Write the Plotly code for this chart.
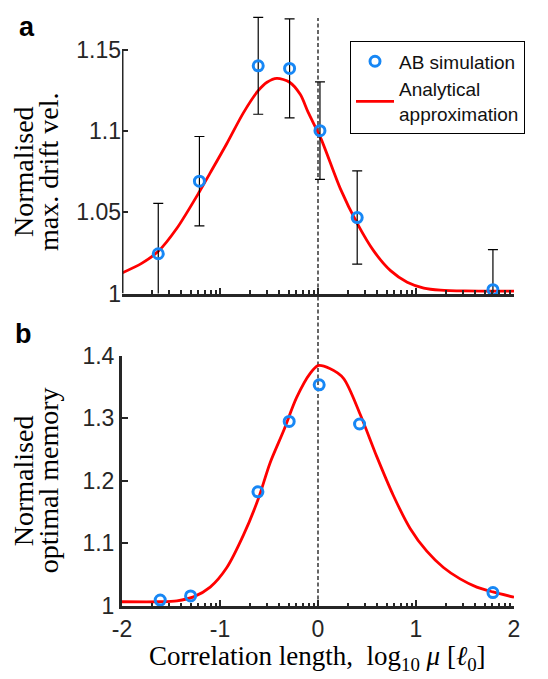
import math
import plotly.graph_objects as go

# ---------------- data ----------------
# Panel a: normalised maximal drift velocity
a_sim_x = [-1.63, -1.21, -0.61, -0.29, 0.02, 0.40, 1.785]
a_sim_y = [1.0245, 1.0692, 1.1402, 1.1386, 1.1003, 1.0468, 1.0024]
a_sim_err = [0.031, 0.0275, 0.0298, 0.0305, 0.0300, 0.0287, 0.0247]

a_fit_x = [-2.0, -1.8, -1.63, -1.44, -1.21, -1.10, -0.93, -0.76, -0.61, -0.52,
           -0.42, -0.29, -0.18, -0.10, 0.03, 0.23, 0.40, 0.57, 0.74, 0.91,
           1.08, 1.25, 1.5, 2.0]
a_fit_y = [1.0127, 1.0186, 1.0260, 1.0402, 1.0627, 1.0743, 1.0924, 1.1114, 1.1249, 1.1301,
           1.1325, 1.1301, 1.1225, 1.1115, 1.0954, 1.0643, 1.0432, 1.0261, 1.0141, 1.0070,
           1.0034, 1.0021, 1.0016, 1.0015]

# Panel b: normalised optimal memory
b_sim_x = [-1.61, -1.30, -0.613, -0.294, 0.012, 0.424, 1.785]
b_sim_y = [1.0094, 1.0161, 1.1823, 1.2948, 1.3531, 1.2906, 1.0214]

b_fit_x = [-2.0, -1.61, -1.44, -1.27, -1.10, -0.93, -0.76, -0.61, -0.49, -0.35,
           -0.22, -0.08, 0.0, 0.12, 0.26, 0.43, 0.60, 0.77, 0.94, 1.11,
           1.28, 1.45, 1.62, 1.785, 2.0]
b_fit_y = [1.0068, 1.0068, 1.0083, 1.0146, 1.0302, 1.0615, 1.1135, 1.1708, 1.2281, 1.2802,
           1.3323, 1.3714, 1.3838, 1.3792, 1.3636, 1.3063, 1.2385, 1.1761, 1.1239, 1.0875,
           1.0615, 1.0433, 1.0302, 1.0224, 1.0140]

x_ticks = [-2, -1, 0, 1, 2]
x_ticktext = ["-2", "-1", "0", "1", "2"]
a_yticks = [1, 1.05, 1.1, 1.15]
a_yticktext = ["1", "1.05", "1.1", "1.15"]
b_yticks = [1, 1.1, 1.2, 1.3, 1.4]
b_yticktext = ["1", "1.1", "1.2", "1.3", "1.4"]

sim_name = "AB simulation"
fit_name = "Analytical<br>approximation"

# ---------------- style ----------------
W, H = 548, 679
ML, MR, MT, MB = 122, 34, 1, 73
PW = W - ML - MR
PH = H - MT - MB
BLUE = "#1787f5"
RED = "#ff0000"
AXC = "#262626"
SANS = "Liberation Sans, Arial, sans-serif"
SERIF = "Liberation Serif, Times New Roman, serif"

A_BOTTOM_PX, A_TOP_PX = 286.7, 37.7      # pixel rows of y=1 and y=1.15 (panel a)
B_BOTTOM_PX, B_TOP_PX = 606.0, 350.0     # pixel rows of y=1 and y=1.4 (panel b)
A_LO, A_HI = 1.0, 1.15
a_scale = (A_BOTTOM_PX - A_TOP_PX) / (A_HI - A_LO)
a_range_top = A_LO + (A_BOTTOM_PX - MT) / a_scale   # axis extends to figure top so error bars are not cut


def px_x(p):
    return (p - ML) / PW


def px_y(p):
    return (H - MB - p) / PH


minor_vals = [d + math.log10(k) for d in range(-2, 2) for k in range(2, 10)]

fig = go.Figure()

# panel a
fig.add_trace(go.Scatter(
    x=a_fit_x, y=a_fit_y, mode="lines", name=fit_name,
    line=dict(color=RED, width=2.8, shape="spline", smoothing=0.8),
    xaxis="x", yaxis="y", showlegend=True, legendrank=2))
fig.add_trace(go.Scatter(
    x=a_sim_x, y=a_sim_y, mode="markers", name=sim_name,
    marker=dict(symbol="circle-open", size=10, color=BLUE, line=dict(width=3, color=BLUE)),
    error_y=dict(type="data", array=a_sim_err, color="black", thickness=1.2, width=5),
    cliponaxis=False, xaxis="x", yaxis="y", showlegend=True, legendrank=1))

# panel b
fig.add_trace(go.Scatter(
    x=b_fit_x, y=b_fit_y, mode="lines", name=fit_name,
    line=dict(color=RED, width=2.8, shape="spline", smoothing=0.8),
    xaxis="x2", yaxis="y2", showlegend=False))
fig.add_trace(go.Scatter(
    x=b_sim_x, y=b_sim_y, mode="markers", name=sim_name,
    marker=dict(symbol="circle-open", size=10, color=BLUE, line=dict(width=3, color=BLUE)),
    cliponaxis=False, xaxis="x2", yaxis="y2", showlegend=False))

axis_common = dict(
    showline=True, linecolor=AXC, linewidth=3, mirror=False,
    ticks="inside", tickcolor=AXC, tickwidth=1.6, ticklen=6,
    showgrid=False, zeroline=False,
    tickfont=dict(family=SANS, size=23, color=AXC),
)

xminor = dict(tickmode="array", tickvals=minor_vals, ticks="inside",
              ticklen=3.5, tickwidth=1.5, tickcolor=AXC, showgrid=False)

fig.update_layout(
    width=W, height=H,
    margin=dict(l=ML, r=MR, t=MT, b=MB),
    paper_bgcolor="white", plot_bgcolor="rgba(0,0,0,0)",
    xaxis=dict(axis_common, domain=[0, 1], range=[-2, 2], anchor="y",
               tickmode="array", tickvals=x_ticks, ticktext=x_ticktext,
               showticklabels=False, minor=xminor),
    yaxis=dict(axis_common, domain=[px_y(A_BOTTOM_PX), 1], range=[A_LO, a_range_top],
               anchor="x", showline=False,
               tickmode="array", tickvals=a_yticks, ticktext=a_yticktext),
    xaxis2=dict(axis_common, domain=[0, 1], range=[-2, 2], anchor="y2",
                tickmode="array", tickvals=x_ticks, ticktext=x_ticktext,
                showticklabels=True, minor=xminor),
    yaxis2=dict(axis_common, domain=[0, px_y(B_TOP_PX)], range=[1, 1.4], anchor="x2",
                tickmode="array", tickvals=b_yticks, ticktext=b_yticktext),
    legend=dict(x=px_x(350), y=px_y(29), xanchor="left", yanchor="top",
                bgcolor="white", bordercolor="black", borderwidth=1,
                font=dict(family=SANS, size=19, color="#111111"),
                itemwidth=38, tracegroupgap=6),
    showlegend=True,
)

# panel a left axis spine, limited to the tick range [1, 1.15]
fig.add_shape(type="line", xref="x", yref="y", x0=-2, x1=-2, y0=A_LO, y1=A_HI,
              layer="above", line=dict(color=AXC, width=3))

# vertical dashed reference line at log10(mu) = 0
fig.add_shape(type="line", xref="x", yref="paper", x0=0, x1=0,
              y0=px_y(B_BOTTOM_PX), y1=px_y(5), layer="below",
              line=dict(color="black", width=1.2, dash="4px,2.5px"))


def ann(text, xp, yp, size, family, angle=0, bold=False):
    fig.add_annotation(text=("<b>%s</b>" % text) if bold else text,
                       xref="paper", yref="paper", x=px_x(xp), y=px_y(yp),
                       xanchor="center", yanchor="middle", showarrow=False,
                       textangle=angle, font=dict(family=family, size=size, color="black"))


ann("Normalised", 23.5, 162, 28, SERIF, angle=-90)
ann("max. drift vel.", 48.5, 162, 28, SERIF, angle=-90)
ann("Normalised", 23.5, 478, 28, SERIF, angle=-90)
ann("optimal memory", 48.5, 478, 28, SERIF, angle=-90)
ann("Correlation length,\u00a0\u00a0log<sub>10</sub>\u00a0<i>μ</i>\u00a0[<i>ℓ</i><sub>0</sub>]",
    317.8, 659.5, 27, SERIF)
ann("a", 26.5, 14, 27, SANS, bold=True)
ann("b", 23, 328, 27, SANS, bold=True)

fig.write_html(
    "out.html",
    config={"displayModeBar": False},
    post_script="document.body.style.margin='0';document.body.style.padding='0';"
                "document.documentElement.style.overflow='hidden';",
)
